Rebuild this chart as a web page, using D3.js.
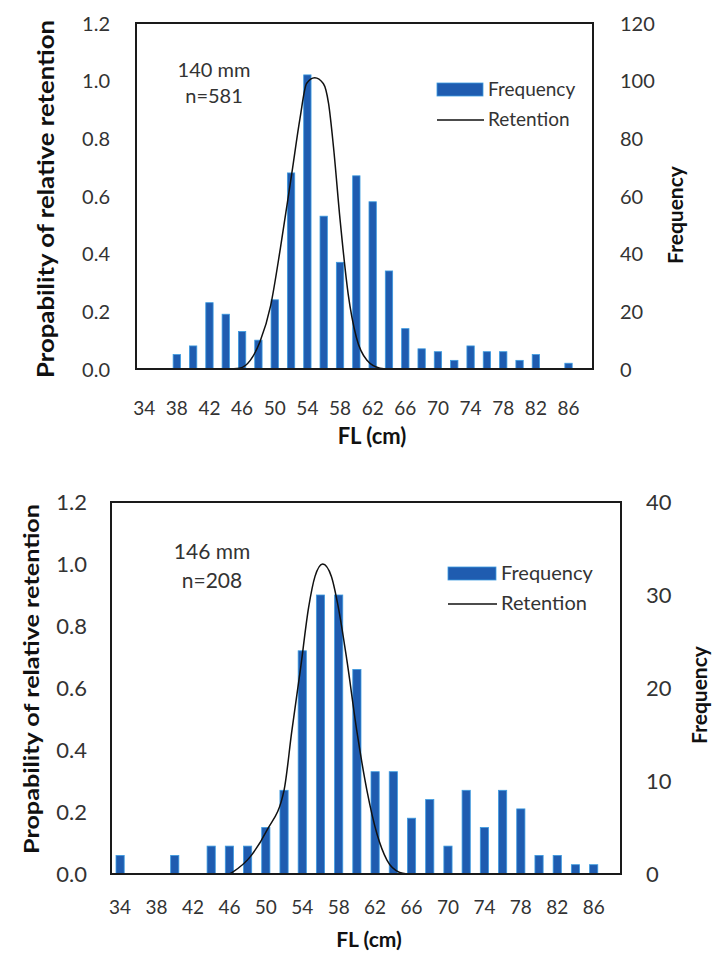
<!DOCTYPE html>
<html><head><meta charset="utf-8">
<script src="https://cdn.jsdelivr.net/npm/d3@7"></script>
<style>
html,body{margin:0;padding:0;background:#fff;}
svg{display:block;}
</style></head>
<body>
<svg id="chart" width="712" height="956"></svg>
<script>
// ---------- data ----------
const categories = [34,36,38,40,42,44,46,48,50,52,54,56,58,60,62,64,66,68,70,72,74,76,78,80,82,84,86,88];
const xTickLabels = [34,38,42,46,50,54,58,62,66,70,74,78,82,86];

const freq140 = [0,0,5,8,23,19,13,10,24,68,102,53,37,67,58,34,14,7,6,3,8,6,6,3,5,0,2,0];
const freq146 = [2,0,0,2,0,3,3,3,5,9,24,30,30,22,11,11,6,8,3,9,5,9,7,2,2,1,1,0];

const retention140FL = [44,45.7,47.0,48.2,49.5,50.7,52.1,53.1,53.9,54.9,55.95,56.6,57.2,58.0,59.0,60.0,61.3,62.9,64];
const retention140P  = [0,0.003,0.03,0.095,0.22,0.42,0.68,0.87,0.99,1.01,0.99,0.92,0.77,0.52,0.26,0.11,0.03,0.003,0];

const retention146FL = [46.0,46.4,48.3,50.1,52.0,52.85,53.8,54.7,55.4,56.25,57.2,57.9,58.9,60.0,61.1,62.2,63.3,64.7,65.5];
const retention146P  = [0,0.007,0.056,0.14,0.27,0.46,0.66,0.86,0.96,1.0,0.96,0.87,0.69,0.46,0.27,0.13,0.045,0.005,0];

const leftTicks = [0,0.2,0.4,0.6,0.8,1.0,1.2];
const rightTicks140 = [0,20,40,60,80,100,120];
const rightTicks146 = [0,10,20,30,40];

const panels = [
  {label1:"140 mm", label2:"n=581", freq:freq140, retFL:retention140FL, retP:retention140P, rTicks:rightTicks140, rMax:120,
   box:{l:136,r:593,t:23,b:369}, font:"Lato, sans-serif",
   yTickSize:20, xTickSize:19, leftTitleSize:23, leftTitleLen:358, rightTitleSize:21, xTitleSize:22,
   legSize:19, annSize:20,
   leftTickX:110, rightTickX:620, leftTitleX:46, leftTitleY:199, rightTitleX:676, rightTitleY:215,
   xTickY:415, xTitleY:444, xTitleX:372,
   legend:{x:437, y:83, tx:488}, ann:{x:214, y1:77, y2:103},
   leftTitle:"Propability of relative retention"},
  {label1:"146 mm", label2:"n=208", freq:freq146, retFL:retention146FL, retP:retention146P, rTicks:rightTicks146, rMax:40,
   box:{l:111,r:621,t:502,b:874}, font:"Lato, sans-serif",
   yTickSize:22, xTickSize:19, leftTitleSize:21, leftTitleLen:350, rightTitleSize:21, xTitleSize:21,
   legSize:20, annSize:21,
   leftTickX:87, rightTickX:646, leftTitleX:32, leftTitleY:679, rightTitleX:700, rightTitleY:695,
   xTickY:914, xTitleY:947, xTitleX:369,
   legend:{x:448, y:567, tx:501}, ann:{x:212, y1:559, y2:588},
   leftTitle:"Propability of relative  retention"}
];

const svg = d3.select("#chart");
const barFill = "#1f5cb0", barEdge = "#3c9be0", textCol = "#333";

panels.forEach(p => {
  const g = svg.append("g");
  const x = d3.scaleBand().domain(categories).range([p.box.l, p.box.r]).paddingInner(0).paddingOuter(0);
  const step = x.step();
  const xLin = d3.scaleLinear().domain([categories[0], categories[categories.length-1]])
                 .range([x(categories[0]) + step/2, x(categories[categories.length-1]) + step/2]);
  const yL = d3.scaleLinear().domain([0,1.2]).range([p.box.b, p.box.t]);
  const yR = d3.scaleLinear().domain([0,p.rMax]).range([p.box.b, p.box.t]);
  const bw = step*0.45;

  // bars
  g.append("g").selectAll("rect").data(categories.map((c,i)=>({c, v:p.freq[i]})).filter(d=>d.v>0))
    .join("rect")
    .attr("x", d => x(d.c) + step/2 - bw/2)
    .attr("width", bw)
    .attr("y", d => yR(d.v))
    .attr("height", d => yR(0) - yR(d.v))
    .attr("fill", barFill).attr("stroke", barEdge).attr("stroke-width", 0.8);

  // retention curve
  const pts = p.retFL.map((fl,i)=>[fl, p.retP[i]]);
  g.append("path").datum(pts)
    .attr("d", d3.line().x(d=>xLin(d[0])).y(d=>yL(d[1])).curve(d3.curveMonotoneX))
    .attr("fill","none").attr("stroke","#111").attr("stroke-width",1.5);

  // frame
  g.append("rect").attr("x",p.box.l).attr("y",p.box.t).attr("width",p.box.r-p.box.l).attr("height",p.box.b-p.box.t)
    .attr("fill","none").attr("stroke","#1a1a1a").attr("stroke-width",2);

  // left axis
  const axL = g.append("g").attr("transform",`translate(${p.leftTickX},0)`)
    .call(d3.axisLeft(yL).tickValues(leftTicks).tickFormat(d3.format(".1f")).tickSize(0).tickPadding(0));
  axL.select(".domain").remove();
  axL.selectAll("text").attr("font-family",p.font).attr("font-size",p.yTickSize).attr("fill",textCol).attr("dy","0.35em");

  // right axis
  const axR = g.append("g").attr("transform",`translate(${p.rightTickX},0)`)
    .call(d3.axisRight(yR).tickValues(p.rTicks).tickSize(0).tickPadding(0));
  axR.select(".domain").remove();
  axR.selectAll("text").attr("font-family",p.font).attr("font-size",p.yTickSize).attr("fill",textCol).attr("dy","0.35em");

  // bottom axis labels
  const axB = g.append("g").attr("transform",`translate(0,${p.xTickY})`)
    .call(d3.axisBottom(x).tickValues(xTickLabels).tickSize(0).tickPadding(0));
  axB.select(".domain").remove();
  axB.selectAll("text").attr("font-family",p.font).attr("font-size",p.xTickSize).attr("fill",textCol).attr("dy","0");

  // titles
  g.append("text").attr("transform",`translate(${p.leftTitleX},${p.leftTitleY}) rotate(-90)`)
    .attr("text-anchor","middle").attr("dy","0.35em")
    .attr("font-family",p.font).attr("font-weight","bold").attr("font-size",p.leftTitleSize).attr("fill","#111")
    .attr("textLength",p.leftTitleLen).attr("lengthAdjust","spacingAndGlyphs")
    .text(p.leftTitle);
  g.append("text").attr("transform",`translate(${p.rightTitleX},${p.rightTitleY}) rotate(-90)`)
    .attr("text-anchor","middle").attr("dy","0.35em")
    .attr("font-family",p.font).attr("font-weight","bold").attr("font-size",p.rightTitleSize).attr("fill","#111")
    .text("Frequency");
  g.append("text").attr("x",p.xTitleX).attr("y",p.xTitleY).attr("text-anchor","middle")
    .attr("font-family",p.font).attr("font-weight","bold").attr("font-size",p.xTitleSize).attr("fill","#111")
    .text("FL (cm)");

  // annotation
  g.append("text").attr("x",p.ann.x).attr("y",p.ann.y1).attr("text-anchor","middle")
    .attr("font-family",p.font).attr("font-size",p.annSize).attr("fill",textCol).text(p.label1);
  g.append("text").attr("x",p.ann.x).attr("y",p.ann.y2).attr("text-anchor","middle")
    .attr("font-family",p.font).attr("font-size",p.annSize).attr("fill",textCol).text(p.label2);

  // legend
  const lg = g.append("g");
  lg.append("rect").attr("x",p.legend.x).attr("y",p.legend.y).attr("width",p.legend.tx-p.legend.x-5).attr("height",13)
    .attr("fill",barFill).attr("stroke",barEdge).attr("stroke-width",0.8);
  lg.append("text").attr("x",p.legend.tx).attr("y",p.legend.y+13)
    .attr("font-family",p.font).attr("font-size",p.legSize).attr("fill",textCol).text("Frequency");
  lg.append("line").attr("x1",p.legend.x).attr("x2",p.legend.tx-4).attr("y1",p.legend.y+37).attr("y2",p.legend.y+37)
    .attr("stroke","#111").attr("stroke-width",1.5);
  lg.append("text").attr("x",p.legend.tx).attr("y",p.legend.y+43)
    .attr("font-family",p.font).attr("font-size",p.legSize).attr("fill",textCol).text("Retention");
});
</script>
</body></html>
